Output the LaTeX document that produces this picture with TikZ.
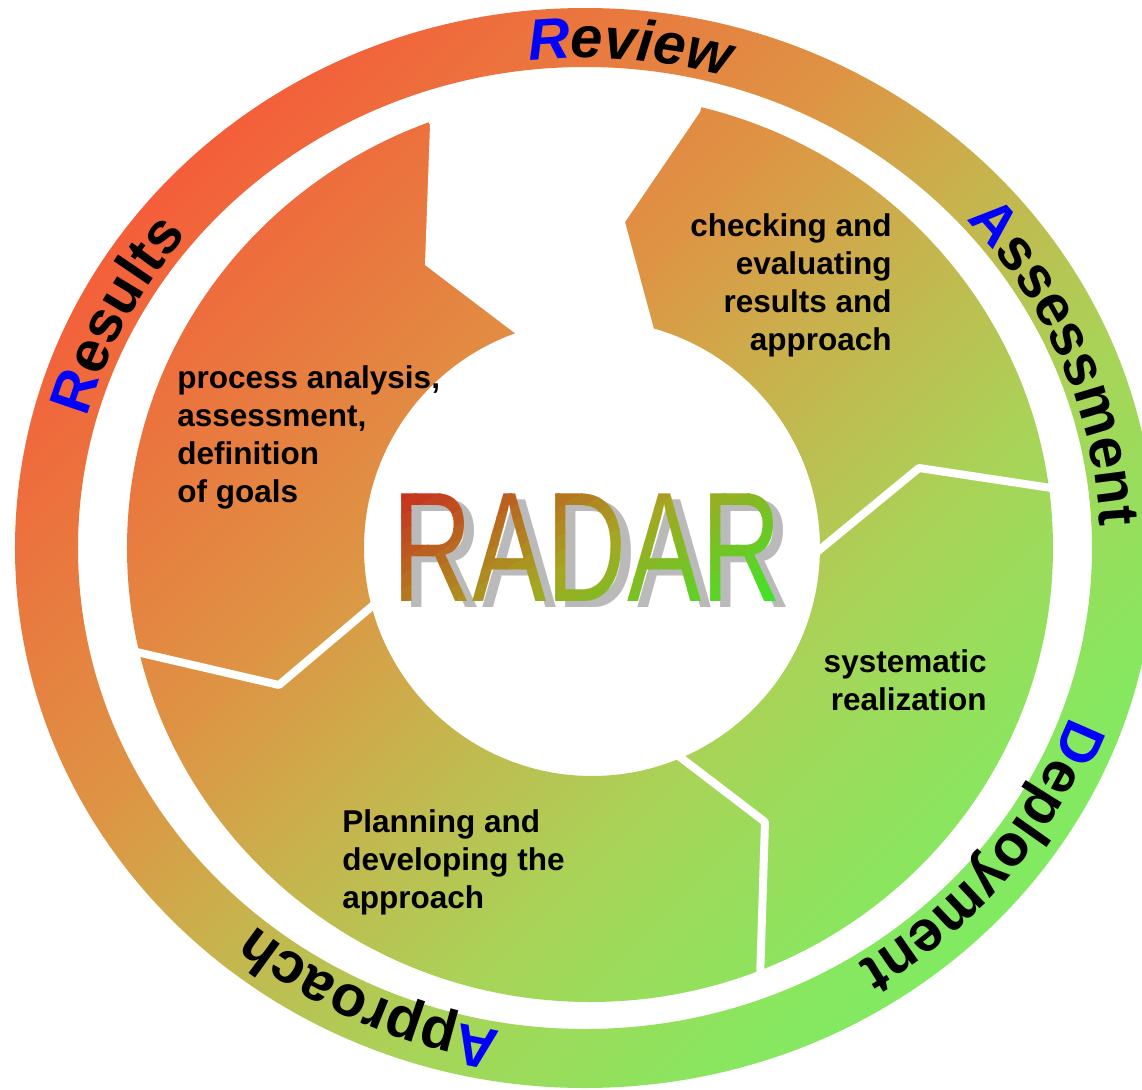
\documentclass[tikz,border=0pt]{standalone}
\usepackage{fontspec}
\setmainfont{Liberation Sans}
\usetikzlibrary{decorations.text}

\definecolor{warm}{HTML}{F45E3A}
\definecolor{toneb}{HTML}{DE9444}
\definecolor{midtone}{HTML}{CAB04C}
\definecolor{toned}{HTML}{A8D458}
\definecolor{tonee}{HTML}{86E860}
\definecolor{fresh}{HTML}{80EA60}
\definecolor{radarred}{HTML}{CA2A1E}
\definecolor{radarolive}{HTML}{A8A422}
\definecolor{radargreen}{HTML}{38E828}
\definecolor{letterblue}{HTML}{0000FF}

\pgfdeclareverticalshading{ringshade}{100bp}{color(0bp)=(fresh); color(25bp)=(fresh); color(28bp)=(tonee); color(39.5bp)=(toned); color(50bp)=(midtone); color(57bp)=(toneb); color(75bp)=(warm); color(100bp)=(warm)}

\newcommand{\descfont}{\fontsize{15.75}{19}\selectfont\bfseries}
\newcommand{\ringfont}{\fontsize{29}{29}\selectfont\bfseries}
\newcommand{\radarword}{\fontsize{55.5}{55.5}\selectfont\scalebox{1}[1.41]{RADAR}}

\begin{document}
\begin{tikzpicture}[x=0.5pt, y=0.5pt, desc/.style={font=\descfont, inner sep=0pt}, divider/.style={white, line width=4pt, line join=round}, ringpath/.style={decorate, decoration={text along path, text align=center, text={#1}}}]

  \useasboundingbox (-590,-541) rectangle (552,548);

  \shade[even odd rule, shading=ringshade, shading angle=45]
    (-5,0) ellipse[x radius=570, y radius=540]
    (-5,0) ellipse[x radius=507, y radius=481]
    (0,0) ellipse[x radius=463, y radius=454]
    (2,0) circle[radius=228];

  \fill[white] (-170,448) -- (-160,423) -- (-165,283) -- (-70,211) -- (0,100) -- (65,215) -- (35,326) -- (110,436) -- (117,462) -- cycle;
  \draw[divider] (-200,-43) -- (-311,-137) -- (-462,-102);
  \draw[divider] (205,-22) -- (329,80) -- (468,59);
  \draw[divider] (69,-193) -- (175,-274) -- (170,-432);

  \coordinate (radarmid) at (-3,0);
  \node[text=black!27, inner sep=0pt] (radarshadow) at ([shift={(10,-6)}]radarmid) {\radarword};
  \foreach \k in {0,...,23} {
    \pgfmathtruncatemacro{\lowpct}{min(100, (\k+0.5)*200/24)}
    \pgfmathtruncatemacro{\highpct}{max(0, (\k+0.5)*200/24 - 100)}
    \colorlet{stripcol}{radarolive!\lowpct!radarred}
    \colorlet{stripcol}{radargreen!\highpct!stripcol}
    \begin{scope}
      \clip[shift={(radarmid)}, rotate=-58.3] ({-150+12.5*\k},-300) rectangle ({-136.5+12.5*\k},300);
      \node[text=stripcol, inner sep=0pt] (radar\k) at (radarmid) {\radarword};
    \end{scope}
  }

  \node[desc, align=left, anchor=north west] (results) at (-413,183) {process analysis,\\assessment,\\definition\\of goals};
  \node[desc, align=right, anchor=north east] (review) at (302,335) {checking and\\evaluating\\results and\\approach};
  \node[desc, align=right, anchor=north east] (deployment) at (397,-101) {systematic\\realization};
  \node[desc, align=left, anchor=north west] (approach) at (-248,-261) {Planning and\\developing the\\approach};

  \path[ringpath={|\ringfont\itshape\color{letterblue}|R|\ringfont\itshape\color{black}|eview}] ({-5+517*cos(130)},{490*sin(130)}) arc[start angle=130, end angle=40, x radius=517, y radius=490];
  \path[ringpath={|\ringfont\color{letterblue}|A|\ringfont\color{black}|ssessment}] ({-5+515*cos(67)},{488*sin(67)}) arc[start angle=67, end angle=-23, x radius=515, y radius=488];
  \path[ringpath={|\ringfont\color{letterblue}|D|\ringfont\color{black}|eployment}] ({-5+517*cos(6.5)},{490*sin(6.5)}) arc[start angle=6.5, end angle=-83.5, x radius=517, y radius=490];
  \path[ringpath={|\ringfont\color{letterblue}|A|\ringfont\color{black}|pproach}] ({-5+517*cos(290)},{490*sin(290)}) arc[start angle=290, end angle=200, x radius=517, y radius=490];
  \path[ringpath={|\ringfont\color{letterblue}|R|\ringfont\color{black}|esults}] ({-5+517*cos(198)},{490*sin(198)}) arc[start angle=198, end angle=108, x radius=517, y radius=490];
\end{tikzpicture}
\end{document}
